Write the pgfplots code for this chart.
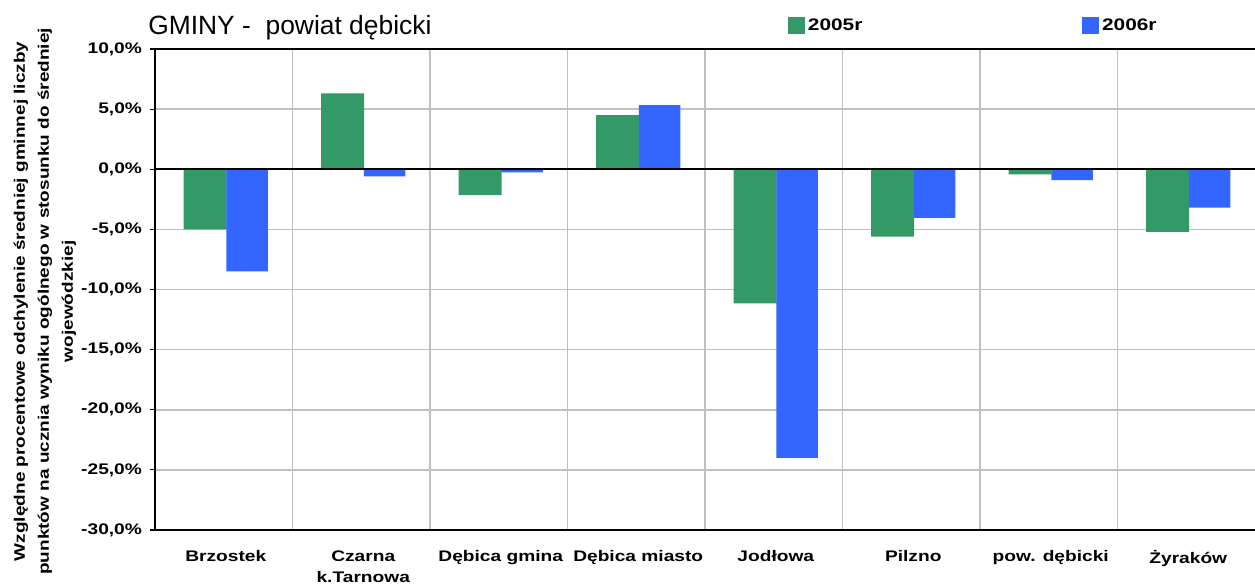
\documentclass[border=0pt]{standalone}
\usepackage{fontspec}
\setmainfont{Liberation Sans}
\newfontfamily\wide{Liberation Sans}[FakeStretch=1.25]
\usepackage{pgfplots}
\pgfplotsset{compat=1.18}
\definecolor{g05}{HTML}{339966}
\definecolor{b06}{HTML}{3366FF}
\definecolor{gridc}{HTML}{C0C0C0}

\begin{document}
\begin{tikzpicture}
% 1 px of the reference = 0.75pt
\useasboundingbox (-116.25pt,-43.5pt) rectangle (825pt,397.5pt);
\begin{axis}[
  scale only axis, width=825pt, height=360.75pt,
  at={(0,0)}, anchor=south west,
  xmin=-0.5, xmax=7.5, ymin=-30, ymax=10,
  ybar=0pt, bar width=32.25pt,
  xtick={0,...,7},
  xticklabels={Brzostek,{Czarna\\k.Tarnowa},Dębica gmina,Dębica miasto,Jodłowa,Pilzno,pow. dębicki,Żyraków},
  xticklabel style={align=center, font=\wide\bfseries\fontsize{11.5}{16}\selectfont, anchor=north, yshift=-8pt, xshift=1.5pt},
  xtick style={draw=none},
  minor xtick={0.5,1.5,...,6.5},
  xminorgrids, minor x tick style={draw=none},
  minor grid style={gridc, line width=1.2pt},
  ytick={-30,-25,...,10},
  yticklabels={{-30,0\%},{-25,0\%},{-20,0\%},{-15,0\%},{-10,0\%},{-5,0\%},{0,0\%},{5,0\%},{10,0\%}},
  yticklabel style={font=\wide\bfseries\fontsize{11.5}{13}\selectfont, xshift=-2.5pt},
  ymajorgrids, major grid style={gridc, line width=1.2pt},
  ytick style={black, line width=0.8pt}, tick align=outside, major tick length=3.75pt,
  axis y line*=left, axis x line*=box,
  axis line style={black, line width=1.4pt},
  legend columns=2,
  legend style={draw=none, fill=none, at={(axis description cs:0.5755,1.048)}, anchor=west,
    inner sep=0pt, font=\wide\bfseries\fontsize{12.5}{14}\selectfont,
    /tikz/every even column/.append style={column sep=163pt}},
  legend image code/.code={\fill[#1] (0pt,-6.4pt) rectangle (12.75pt,6.4pt);},
]
\addplot[fill=g05, draw=none, bar shift=-14pt] coordinates {(0,-5.0) (1,6.3) (2,-2.15) (3,4.5) (4,-11.15) (5,-5.6) (6,-0.42) (7,-5.2)};
\addplot[fill=b06, draw=none, bar shift=17.5pt, bar width=31pt] coordinates {(0,-8.5) (1,-0.6) (2,-0.25) (3,5.33) (4,-24.0) (5,-4.05) (6,-0.9) (7,-3.2)};
\legend{2005r,2006r}
\draw[black, line width=1.6pt] (axis cs:-0.5,0) -- (axis cs:7.5,0);
\end{axis}
\node[anchor=west, inner sep=0pt, font=\fontsize{19.8}{22}\selectfont] at (-5.25pt,376.5pt) {GMINY -\ \ powiat dębicki};
\node[rotate=90, align=center, font=\wide\bfseries\fontsize{11.4}{18}\selectfont] at (-82.5pt,171.5pt)
  {Względne procentowe odchylenie średniej gminnej liczby\\punktów na ucznia wyniku ogólnego w stosunku do średniej\\wojewódzkiej};
\end{tikzpicture}
\end{document}
